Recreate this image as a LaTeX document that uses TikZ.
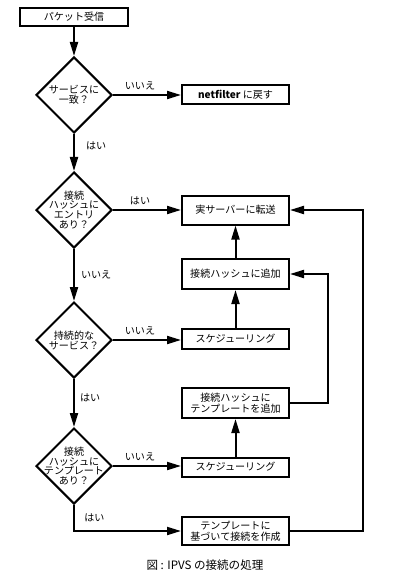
\documentclass[tikz,border=0pt]{standalone}
\usepackage{fontspec}
\setmainfont{Noto Sans CJK JP}
\usetikzlibrary{arrows.meta,shapes.geometric}
\begin{document}
\begin{tikzpicture}[x=1bp,y=-1bp,line width=2bp,
  box/.style={draw, line width=2bp, minimum width=107bp, inner sep=0pt, align=center, font=\fontsize{10.1}{11}\selectfont},
  dia/.style={draw, diamond, line width=2bp, minimum width=76bp, minimum height=76bp, inner sep=0pt},
  dtext/.style={align=center, font=\fontsize{10.1}{10}\selectfont, inner sep=0pt},
  lab/.style={font=\fontsize{10.1}{11}\selectfont, inner sep=0pt},
  arr/.style={-{Triangle[length=14bp,width=8bp]}, line width=2bp},
  line join=miter]
\useasboundingbox (0,0) rectangle (402,577);
% boxes
\node[box, minimum height=18bp] (b0) at (74,17) {パケット受信};
\node[box, minimum height=19bp] (bnf) at (235.5,95) {{\bfseries netfilter} に戻す};
\node[box, minimum height=29bp] (bs) at (235.5,210) {実サーバーに転送};
\node[box, minimum height=30bp] (ba1) at (235.5,274) {接続ハッシュに追加};
\node[box, minimum height=20bp] (s1) at (235.5,339) {スケジューリング};
\node[box, minimum height=30bp] (ba2) at (235.5,403) {接続ハッシュに\\テンプレートを追加};
\node[box, minimum height=19bp] (s2) at (235.5,467) {スケジューリング};
\node[box, minimum height=28bp] (bt) at (235.5,531) {テンプレートに\\基づいて接続を作成};
% diamonds
\node[dia] (d1) at (74,95) {};
\node[dtext] (t1) at (d1.center) {サービスに\\一致？};
\node[dia] (d2) at (74,210) {};
\node[dtext] (t2) at (d2.center) {接続\\ハッシュに\\エントリ\\あり？};
\node[dia] (d3) at (74,340) {};
\node[dtext] (t3) at (d3.center) {持続的な\\サービス？};
\node[dia] (d4) at (74,466) {};
\node[dtext] (t4) at (d4.center) {接続\\ハッシュに\\テンプレート\\あり？};
% helper coordinates
\coordinate (c4) at (74,531);
\coordinate (r1) at (328,0);
\coordinate (r2) at (363,0);
% connectors
\draw[arr] (b0.south) -- (d1.north);
\draw[arr] (d1.east) -- node[lab, above=4bp, xshift=-7bp] {いいえ} (bnf.west);
\draw[arr] (d1.south) -- node[lab, pos=0.31, anchor=west, xshift=11bp] {はい} (d2.north);
\draw[arr] (d2.east) -- node[lab, above=4bp, xshift=-7bp] {はい} (bs.west);
\draw[arr] (d2.south) -- node[lab, pos=0.5, anchor=west, xshift=6bp] {いいえ} (d3.north);
\draw[arr] (d3.east) -- node[lab, above=4bp, xshift=-7bp] {いいえ} (d3.east -| s1.west);
\draw[arr] (d3.south) -- node[lab, pos=0.4, anchor=west, xshift=5bp] {はい} (d4.north);
\draw[arr] (d4.east) -- node[lab, above=4bp, xshift=-7bp] {いいえ} (d4.east -| s2.west);
\draw[arr] (d4.south) -- (c4) -- node[lab, pos=0.19, above=8bp] {はい} (bt.west);
\draw[arr] (s1.north) -- (ba1.south);
\draw[arr] (ba1.north) -- (bs.south);
\draw[arr] (s2.north) -- (ba2.south);
\draw[arr] (ba2.east) -- (ba2.east -| r1) |- (ba1.east);
\draw[arr] (bt.east) -- (bt.east -| r2) |- (bs.east);
% caption
\node[font=\fontsize{11.6}{13}\selectfont, inner sep=0pt] (cap) at (205,565) {図 : IPVS の接続の処理};
\end{tikzpicture}
\end{document}
